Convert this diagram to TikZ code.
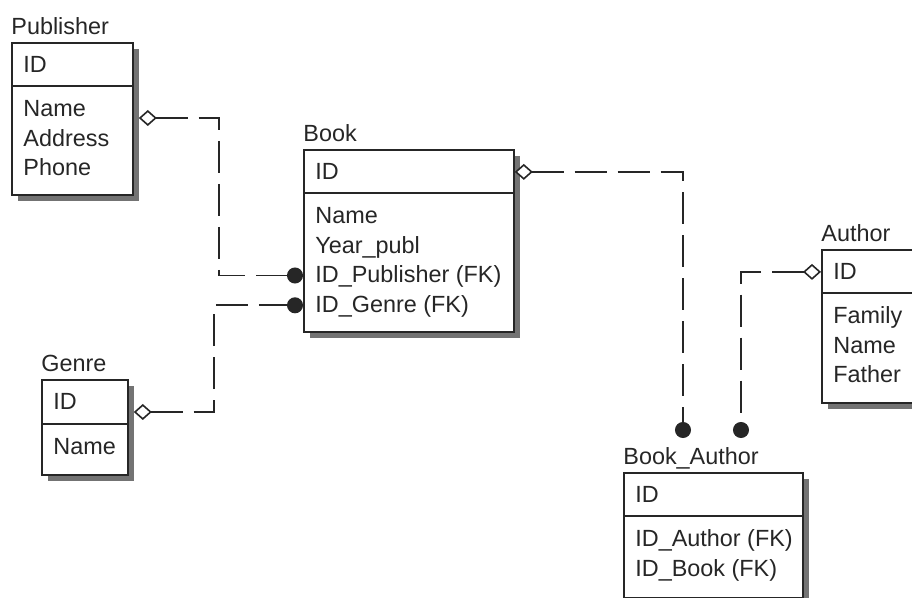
\documentclass[tikz,border=0pt]{standalone}
\usepackage{fontspec}
\setmainfont{Liberation Sans}
\usetikzlibrary{positioning,shadows,arrows.meta}

\tikzset{
  entity/.style={draw=black!85, line width=0.9pt, fill=white, anchor=north west,
    inner sep=0pt, drop shadow={shadow xshift=3pt, shadow yshift=-3pt,
    fill=black!55, opacity=1}},
  tabletitle/.style={anchor=base west, inner sep=0pt, text=black!85},
  divider/.style={draw=black!85, line width=0.9pt},
  field/.style={anchor=north west, inner sep=0pt, text height=11pt,
    text depth=3.5pt, text=black!85},
  nextfield/.style={below=0pt of #1.south west, anchor=north west},
  rel/.style={draw=black!85, line width=0.8pt, dash pattern=on 16pt off 5.5pt,
    {Diamond[length=9pt,width=8pt,fill=white]}-{Circle[length=8pt]}},
}

\begin{document}
\begin{tikzpicture}[x=0.5pt, y=-0.5pt, font=\fontsize{11.7}{14.5}\selectfont]
  \useasboundingbox (0,0) rectangle (912,598);

  % Publisher
  \node[entity, minimum width=60.5pt, minimum height=76pt] (publisher) at (11,42) {};
  \node[tabletitle] at ([yshift=3.5pt]publisher.north west) {Publisher};
  \coordinate (publisher-div) at ([yshift=-22pt]publisher.north west);
  \draw[divider] (publisher-div) -- (publisher-div -| publisher.east);
  \node[field, below right=4pt and 6pt of publisher.north west] (publisher-id) {ID};
  \node[field, below right=4pt and 6pt of publisher-div] (publisher-name) {Name};
  \node[field, nextfield=publisher-name] (publisher-address) {Address};
  \node[field, nextfield=publisher-address] (publisher-phone) {Phone};

  % Book
  \node[entity, minimum width=105pt, minimum height=91pt] (book) at (303,149) {};
  \node[tabletitle] at ([yshift=3.5pt]book.north west) {Book};
  \coordinate (book-div) at ([yshift=-22pt]book.north west);
  \draw[divider] (book-div) -- (book-div -| book.east);
  \node[field, below right=4pt and 6pt of book.north west] (book-id) {ID};
  \node[field, below right=4pt and 6pt of book-div] (book-name) {Name};
  \node[field, nextfield=book-name] (book-year) {Year\_publ};
  \node[field, nextfield=book-year] (book-idpub) {ID\_Publisher (FK)};
  \node[field, nextfield=book-idpub] (book-idgenre) {ID\_Genre (FK)};

  % Genre
  \node[entity, minimum width=43pt, minimum height=47.5pt] (genre) at (41,379) {};
  \node[tabletitle] at ([yshift=3.5pt]genre.north west) {Genre};
  \coordinate (genre-div) at ([yshift=-22.5pt]genre.north west);
  \draw[divider] (genre-div) -- (genre-div -| genre.east);
  \node[field, below right=4pt and 6pt of genre.north west] (genre-id) {ID};
  \node[field, below right=4pt and 6pt of genre-div] (genre-name) {Name};

  % Author
  \node[entity, minimum width=55pt, minimum height=76.5pt] (author) at (821,249) {};
  \node[tabletitle] at ([yshift=3.5pt]author.north west) {Author};
  \coordinate (author-div) at ([yshift=-22pt]author.north west);
  \draw[divider] (author-div) -- (author-div -| author.east);
  \node[field, below right=4pt and 6pt of author.north west] (author-id) {ID};
  \node[field, below right=4pt and 6pt of author-div] (author-family) {Family};
  \node[field, nextfield=author-family] (author-name) {Name};
  \node[field, nextfield=author-name] (author-father) {Father};

  % Book_Author
  \node[entity, minimum width=89.5pt, minimum height=62.5pt] (bookauthor) at (623,472) {};
  \node[tabletitle] at ([yshift=3.5pt]bookauthor.north west) {Book\_Author};
  \coordinate (bookauthor-div) at ([yshift=-22pt]bookauthor.north west);
  \draw[divider] (bookauthor-div) -- (bookauthor-div -| bookauthor.east);
  \node[field, below right=4pt and 6pt of bookauthor.north west] (bookauthor-id) {ID};
  \node[field, below right=4pt and 6pt of bookauthor-div] (bookauthor-idauthor) {ID\_Author (FK)};
  \node[field, nextfield=bookauthor-idauthor] (bookauthor-idbook) {ID\_Book (FK)};
  \coordinate (bookauthor-book) at ([shift={(30pt,17pt)}]bookauthor.north west);
  \coordinate (bookauthor-author) at ([shift={(59pt,17pt)}]bookauthor.north west);

  % relationships
  \draw[rel] ([xshift=2.5pt, yshift=-38pt]publisher.north east) -- ++(40pt,0)
    |- (book.west |- book-idpub);
  \draw[rel] ([xshift=2.5pt, yshift=-16.5pt]genre.north east) -- ++(40pt,0)
    |- (book.west |- book-idgenre);
  \draw[rel] (book.east |- book-id) -| (bookauthor-book);
  \draw[rel] (author.west |- author-id) -| (bookauthor-author);
\end{tikzpicture}
\end{document}
